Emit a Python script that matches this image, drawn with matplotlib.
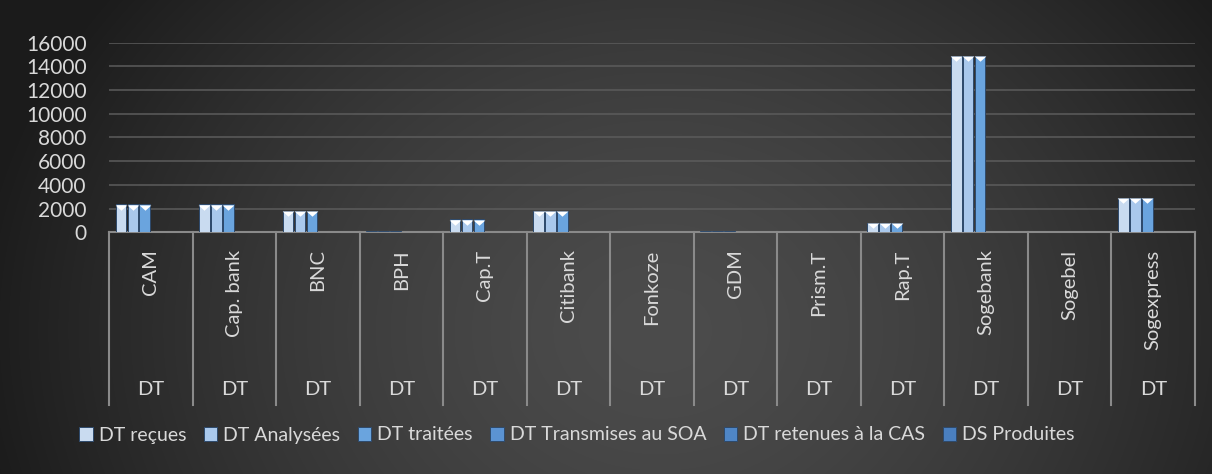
import matplotlib
matplotlib.use("Agg")
import matplotlib.pyplot as plt
import numpy as np
from matplotlib.patches import Patch
import matplotlib.transforms as mtransforms

categories = ["CAM", "Cap. bank", "BNC", "BPH", "Cap.T", "Citibank", "Fonkoze",
              "GDM", "Prism.T", "Rap.T", "Sogebank", "Sogebel", "Sogexpress"]
group_label = "DT"
series_names = ["DT reçues", "DT Analysées", "DT traitées",
                "DT Transmises au SOA", "DT retenues à la CAS", "DS Produites"]
dt_recues = [2370, 2370, 1830, 100, 1130, 1830, 30, 90, 0, 820, 14900, 30, 2920]
dt_analysees = [2370, 2370, 1830, 100, 1130, 1830, 30, 90, 0, 820, 14900, 30, 2920]
dt_traitees = [2370, 2370, 1830, 100, 1130, 1830, 30, 90, 0, 820, 14900, 30, 2920]
dt_transmises = [0] * 13
dt_retenues = [0] * 13
ds_produites = [0] * 13
yticks = [0, 2000, 4000, 6000, 8000, 10000, 12000, 14000, 16000]

series = [dt_recues, dt_analysees, dt_traitees, dt_transmises, dt_retenues, ds_produites]
colors = ["#c9dbf0", "#a9c8ec", "#6aa4de", "#5b93d3", "#4f86c6", "#4a7fbf"]

plt.rcParams["font.family"] = ["Lato", "DejaVu Sans"]
txt = "#d9d9d9"

fig = plt.figure(figsize=(12.12, 4.74), dpi=100)

# background radial gradient
bg = fig.add_axes([0, 0, 1, 1])
h, w = 474, 1212
yy, xx = np.mgrid[0:h, 0:w]
d = np.sqrt(((xx - 660) / 680.0) ** 2 + ((yy - 330) / 560.0) ** 2)
d = np.clip(d, 0, 1)
val = 0x4c - (0x4c - 0x1c) * d ** 1.5
img = np.dstack([val, val, val]) / 255.0
bg.imshow(img, aspect="auto", extent=[0, 1, 0, 1], origin="upper")
bg.axis("off")

ax = fig.add_axes([0.0899, 0.5099, 0.8961, 0.4001])
ax.set_facecolor("none")
n = len(categories)
x = np.arange(n)
group_w = 0.86
bw = group_w / len(series)
cap = [(-1, 0), (1, 0), (0, -0.9), (-1, 0)]
trans = ax.transData + mtransforms.ScaledTranslation(0, -0.5 / 72, fig.dpi_scale_trans)
for i, (vals, c) in enumerate(zip(series, colors)):
    pos = x - group_w / 2 + bw * (i + 0.5)
    ax.bar(pos, vals, width=bw * 0.88, color=c, edgecolor="#2e4a6c",
           linewidth=0.7, zorder=3, label=series_names[i])
    v = np.array(vals)
    m = v > 300
    ax.scatter(pos[m], v[m], marker=cap, s=70, color="white", linewidths=0,
               zorder=4, transform=trans)

ax.set_xlim(-0.5, n - 0.5)
ax.set_ylim(0, 16000)
ax.set_yticks(yticks)
ax.set_yticklabels([str(t) for t in yticks], fontsize=15, color=txt)
ax.tick_params(axis="y", length=0, pad=16)
ax.set_xticks([])
for s in ax.spines.values():
    s.set_visible(False)
ax.grid(axis="y", color="#5c5c5c", linewidth=1.1, zorder=0)

# category axis with separators
xt = ax.get_xaxis_transform()
ax.plot([-0.5, n - 0.5], [0, 0], color="#8a8a8a", lw=1.5, transform=xt, clip_on=False)
for b in np.arange(n + 1) - 0.5:
    ax.plot([b, b], [0, -0.91], color="#8a8a8a", lw=1.5, transform=xt, clip_on=False)
for i, cat in enumerate(categories):
    ax.text(i, -0.09, cat, rotation=90, ha="center", va="top", fontsize=14.5,
            color=txt, transform=xt)
    ax.text(i, -0.83, group_label, ha="center", va="center", fontsize=14.5,
            color=txt, transform=xt)

handles = [Patch(facecolor=c, edgecolor="#2e4a6c", linewidth=0.7) for c in colors]
leg = fig.legend(handles, series_names, loc="center", ncol=6,
                 bbox_to_anchor=(0.476, 1 - 435 / 474), frameon=False,
                 fontsize=14, handlelength=0.7, handleheight=0.7,
                 handletextpad=0.3, columnspacing=0.9, labelcolor=txt)

fig.savefig("out.png", dpi=100)
